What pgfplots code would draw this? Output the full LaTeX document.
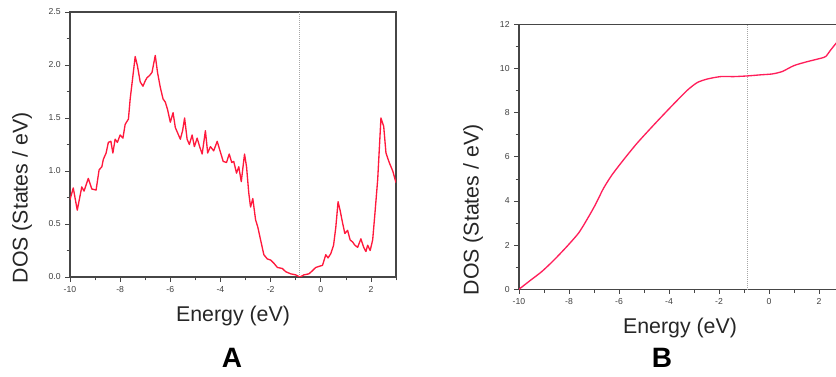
\documentclass[border=0pt]{standalone}
\usepackage{pgfplots}
\pgfplotsset{compat=1.18}
\usepackage{fontspec}
\setmainfont{Liberation Sans}

\definecolor{dosred}{RGB}{255,25,60}
\definecolor{idosred}{RGB}{255,30,90}
\definecolor{frame}{RGB}{70,70,70}

\pgfplotsset{
  dospanel/.style={
    scale only axis,
    anchor=south west,
    xmin=-10, xmax=3,
    xtick={-10,-8,...,2},
    minor xtick={-9,-7,...,3},
    tick align=outside,
    tick pos=left,
    major tick length=3.5pt,
    minor tick length=2.5pt,
    every tick/.style={frame, line width=0.5pt},
    axis line style={frame, line width=0.8pt},
    tick label style={font=\fontsize{6.5}{7}\selectfont, text=black!75},
    /pgf/number format/assume math mode=true,
    clip=true,
  },
  fermi/.style={gray!70, densely dotted, line width=0.5pt},
}

\begin{document}
\begin{tikzpicture}
\useasboundingbox (0,0) rectangle (627pt,282.75pt);
\clip (0,0) rectangle (627pt,282.75pt);

% ---------- Panel A: density of states ----------
\begin{axis}[dospanel,
  at={(52.5pt,75pt)}, width=244.5pt, height=198.75pt,
  ymin=0, ymax=2.5,
  ytick={0,0.5,...,2.5},
  minor ytick={0.25,0.75,...,2.25},
  yticklabel style={/pgf/number format/.cd, fixed, fixed zerofill, precision=1},
  xticklabel style={/pgf/number format/.cd, fixed},
]
\addplot[fermi] coordinates {(-0.86,0) (-0.86,2.5)};
\addplot[dosred, line width=1pt, line join=round] coordinates {
(-10.00,0.73) (-9.87,0.84) (-9.71,0.63) (-9.53,0.85) (-9.44,0.81) (-9.27,0.93)
(-9.13,0.83) (-8.96,0.82) (-8.84,1.01) (-8.73,1.04) (-8.67,1.11) (-8.56,1.17)
(-8.47,1.27) (-8.37,1.28) (-8.29,1.17) (-8.20,1.30) (-8.11,1.27) (-8.00,1.34)
(-7.89,1.31) (-7.80,1.44) (-7.67,1.49) (-7.60,1.68) (-7.49,1.90) (-7.40,2.08)
(-7.31,1.99) (-7.20,1.84) (-7.09,1.80) (-7.00,1.85) (-6.93,1.88) (-6.83,1.90)
(-6.73,1.93) (-6.60,2.09) (-6.51,1.93) (-6.40,1.79) (-6.29,1.68) (-6.20,1.65)
(-6.11,1.58) (-6.00,1.46) (-5.89,1.55) (-5.80,1.41) (-5.71,1.36) (-5.60,1.30)
(-5.51,1.38) (-5.43,1.50) (-5.33,1.30) (-5.24,1.25) (-5.13,1.34) (-5.04,1.23)
(-4.93,1.31) (-4.83,1.23) (-4.73,1.16) (-4.60,1.38) (-4.51,1.17) (-4.40,1.23)
(-4.27,1.19) (-4.13,1.28) (-4.03,1.20) (-3.89,1.09) (-3.76,1.08) (-3.65,1.16)
(-3.55,1.08) (-3.47,1.09) (-3.36,0.98) (-3.27,1.04) (-3.17,0.90) (-3.04,1.16)
(-2.96,1.04) (-2.87,0.79) (-2.80,0.66) (-2.71,0.74) (-2.60,0.54) (-2.51,0.47)
(-2.40,0.35) (-2.27,0.21) (-2.13,0.17) (-2.00,0.16) (-1.87,0.13) (-1.73,0.09)
(-1.53,0.08) (-1.40,0.05) (-1.20,0.03) (-1.00,0.02) (-0.83,0.00) (-0.67,0.02)
(-0.47,0.03) (-0.33,0.06) (-0.20,0.09) (-0.07,0.10) (0.07,0.11) (0.20,0.21)
(0.29,0.18) (0.40,0.22) (0.51,0.30) (0.60,0.47) (0.69,0.71) (0.77,0.63)
(0.87,0.51) (0.96,0.41) (1.07,0.44) (1.17,0.35) (1.27,0.33) (1.36,0.30)
(1.47,0.28) (1.60,0.36) (1.71,0.28) (1.80,0.24) (1.87,0.30) (1.97,0.25)
(2.07,0.35) (2.16,0.60) (2.27,0.92) (2.40,1.50) (2.51,1.42) (2.60,1.17)
(2.73,1.08) (2.87,1.00) (3.00,0.89)
};
\end{axis}

% ---------- Panel B: integrated density of states ----------
\begin{axis}[dospanel,
  at={(389.25pt,65.8pt)}, width=243.75pt, height=198.75pt,
  ymin=0, ymax=12,
  ytick={0,2,...,12},
  minor ytick={1,3,...,11},
]
\addplot[fermi] coordinates {(-0.86,0) (-0.86,12)};
\addplot[idosred, line width=1pt, smooth, tension=0.4] coordinates {
(-10.00,0.00) (-9.56,0.39) (-9.09,0.80) (-8.62,1.30) (-8.09,1.93) (-7.62,2.54)
(-7.29,3.14) (-6.95,3.82) (-6.62,4.57) (-6.28,5.18) (-5.82,5.86) (-5.28,6.61)
(-4.61,7.44) (-3.94,8.24) (-3.28,9.00) (-2.87,9.36) (-2.47,9.52) (-1.94,9.63)
(-1.40,9.63) (-0.87,9.66) (-0.33,9.71) (0.13,9.75) (0.53,9.86) (1.00,10.13)
(1.54,10.31) (2.07,10.46) (2.27,10.54) (2.47,10.84) (2.74,11.22) (3.00,11.60)
};
\end{axis}

% ---------- titles and labels ----------
\node[font=\fontsize{16}{18}\selectfont, text=black!85] at (174.75pt,45.75pt) {Energy (eV)};
\node[font=\fontsize{16}{18}\selectfont, text=black!85, rotate=90] at (16.5pt,134.25pt) {DOS (States / eV)};
\node[font=\bfseries\fontsize{21}{23}\selectfont] at (174pt,14.25pt) {A};

\node[font=\fontsize{16}{18}\selectfont, text=black!85] at (510pt,36.75pt) {Energy (eV)};
\node[font=\fontsize{16}{18}\selectfont, text=black!85, rotate=90] at (354.75pt,125.25pt) {DOS (States / eV)};
\node[font=\bfseries\fontsize{21}{23}\selectfont] at (496.5pt,14.25pt) {B};
\end{tikzpicture}
\end{document}
